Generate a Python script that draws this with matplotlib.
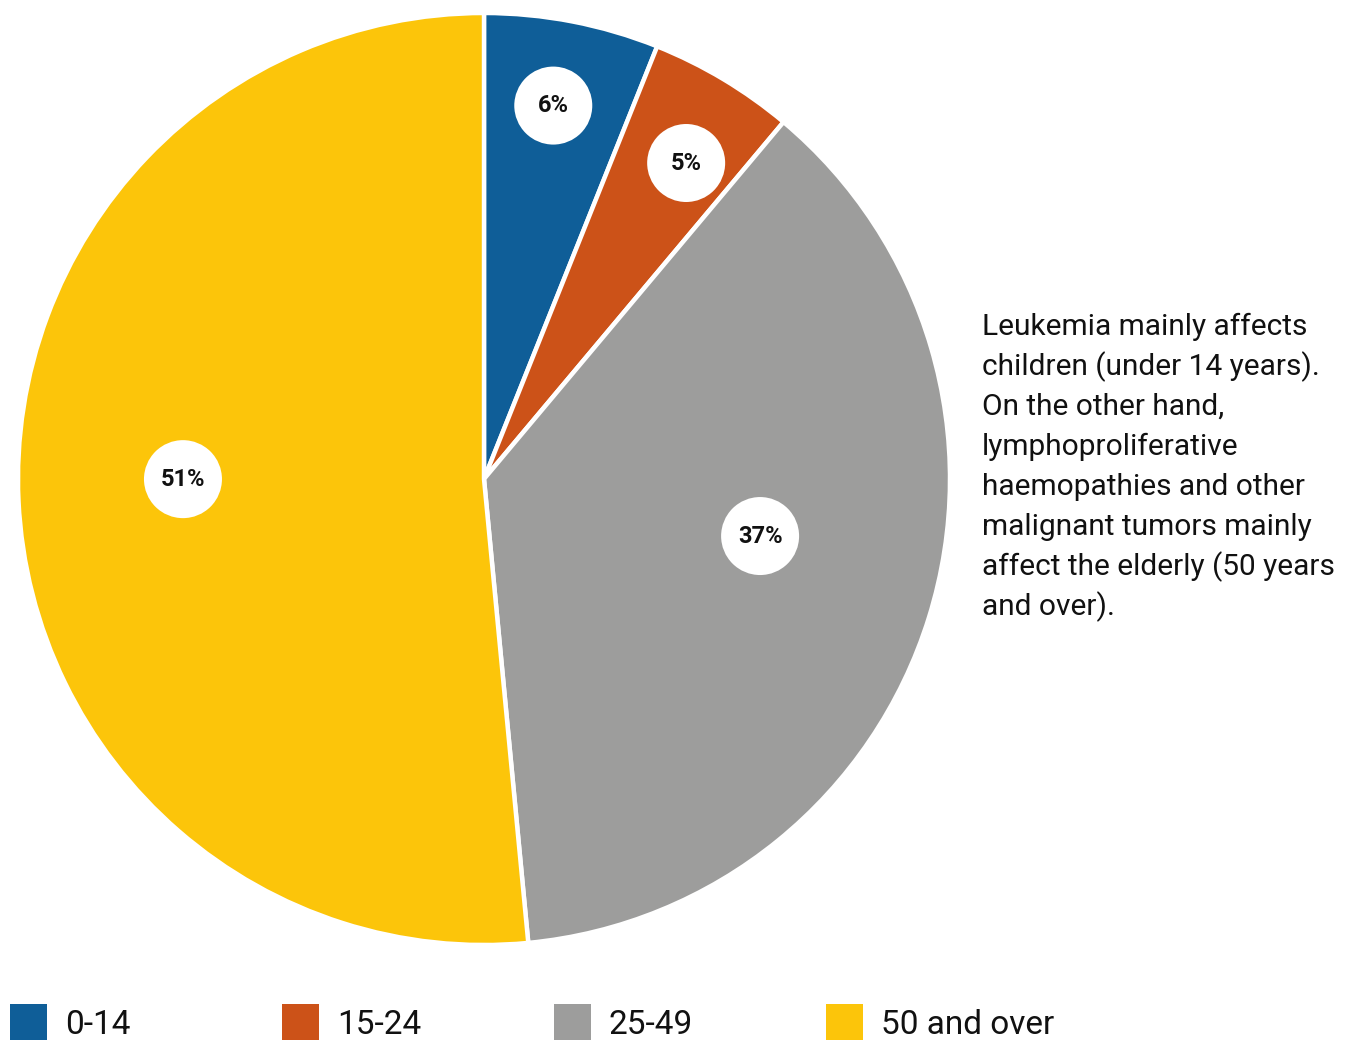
import numpy as np
import matplotlib.pyplot as plt
from matplotlib.patches import Circle, Rectangle

plt.rcParams['font.family'] = ['Roboto', 'DejaVu Sans']

# share of cases by age group (%)
age_groups = ["0-14", "15-24", "25-49", "50 and over"]
shares = [6, 5, 37, 51]
colors = ["#0f5e98", "#cc5218", "#9d9d9c", "#fcc50a"]

note_lines = [
    "Leukemia mainly affects",
    "children (under 14 years).",
    "On the other hand,",
    "lymphoproliferative",
    "haemopathies and other",
    "malignant tumors mainly",
    "affect the elderly (50 years",
    "and over).",
]

# where the white value badges sit: fraction of radius, angular nudge (deg)
badge_radius = [0.815, 0.805, 0.605, 0.646]
badge_nudge = [0.4, -1.7, 5.6, -2.7]

W, H = 1370, 1041
fig = plt.figure(figsize=(W / 100, H / 100), dpi=100)

cx, cy, r = 484, 479, 466
ax = fig.add_axes([(cx - r) / W, (H - cy - r) / H, 2 * r / W, 2 * r / H])

wedges, _ = ax.pie(shares, colors=colors, startangle=90, counterclock=False,
                   wedgeprops=dict(edgecolor="white", linewidth=3.2))

for w, val, rad, nudge in zip(wedges, shares, badge_radius, badge_nudge):
    mid = np.deg2rad((w.theta1 + w.theta2) / 2 + nudge)
    x, y = rad * np.cos(mid), rad * np.sin(mid)
    ax.add_patch(Circle((x, y), 39 / r, facecolor="white", edgecolor="none", zorder=3))
    ax.text(x, y, f"{val}%", ha="center", va="center", fontsize=17,
            fontweight="bold", color="#111111", zorder=4)

ax.set_xlim(-1, 1)
ax.set_ylim(-1, 1)
ax.axis("off")

# side note
for i, line in enumerate(note_lines):
    fig.text(982 / W, 1 - (335 + 40 * i) / H, line, fontsize=21.5,
             color="#111111", va="baseline", ha="left")

# legend along the bottom
for i, (lab, col) in enumerate(zip(age_groups, colors)):
    x0 = 10 + 272 * i
    fig.add_artist(Rectangle((x0 / W, 1 - 1040 / H), 37 / W, 36 / H,
                             transform=fig.transFigure, facecolor=col, edgecolor="none"))
    fig.text((x0 + 55) / W, 1 - 1034 / H, lab, fontsize=24, color="#111111",
             va="baseline", ha="left")

fig.savefig("out.png", dpi=100)
